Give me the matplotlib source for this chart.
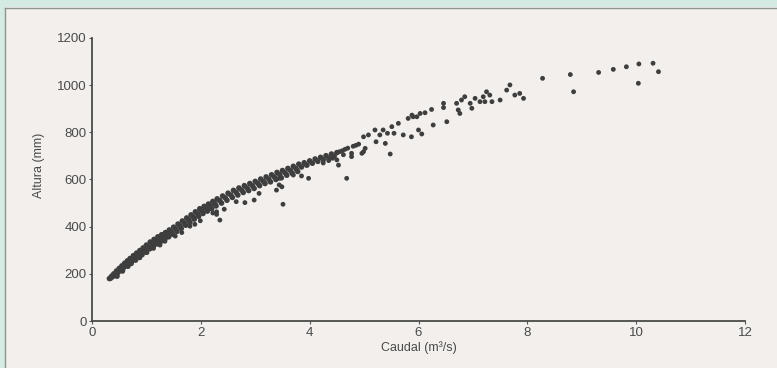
import numpy as np
import matplotlib
matplotlib.use("Agg")
import matplotlib.pyplot as plt
from matplotlib.patches import Rectangle

# rating curve data (Caudal m3/s, Altura mm)
# dense band, upper row
q_top = [0.32, 0.36, 0.40, 0.45, 0.50, 0.55, 0.60, 0.65, 0.70, 0.76, 0.82, 0.88,
         0.94, 1.00, 1.07, 1.14, 1.21, 1.28, 1.35, 1.42, 1.50, 1.58, 1.66, 1.74,
         1.82, 1.90, 1.98, 2.06, 2.14, 2.22, 2.30, 2.40, 2.50, 2.60, 2.70, 2.80,
         2.90, 3.00, 3.10, 3.20, 3.30, 3.40, 3.50, 3.60, 3.70, 3.80, 3.90, 4.00,
         4.10, 4.20, 4.30, 4.40, 4.50]
h_top = [180, 190, 200, 212, 223, 234, 245, 255, 265, 277, 288, 299,
         310, 322, 335, 346, 357, 366, 375, 386, 398, 411, 424, 437,
         450, 463, 476, 486, 496, 507, 518, 530, 542, 554, 564, 574,
         583, 592, 602, 611, 620, 630, 638, 647, 656, 665, 671, 679,
         687, 694, 701, 708, 714]

# dense band, middle row
q_mid = [0.34, 0.38, 0.43, 0.48, 0.53, 0.58, 0.63, 0.68, 0.73, 0.79, 0.85, 0.91,
         0.97, 1.04, 1.11, 1.18, 1.25, 1.32, 1.39, 1.46, 1.54, 1.62, 1.70, 1.78,
         1.86, 1.94, 2.02, 2.10, 2.18, 2.26, 2.35, 2.45, 2.55, 2.65, 2.75, 2.85,
         2.95, 3.05, 3.15, 3.25, 3.35, 3.45, 3.55, 3.65, 3.75, 3.85, 3.95, 4.05,
         4.15, 4.25, 4.35, 4.45]
h_mid = [181, 188, 197, 206, 216, 226, 236, 246, 257, 268, 279, 290,
         302, 314, 326, 337, 348, 357, 367, 378, 390, 403, 416, 429,
         442, 455, 467, 477, 487, 498, 510, 522, 534, 545, 555, 564,
         573, 583, 592, 601, 611, 620, 628, 637, 646, 653, 661, 669,
         677, 684, 691, 698]

# dense band, lower row
q_low = [0.46, 0.56, 0.66, 0.72, 0.80, 0.86, 0.92, 0.99, 1.06, 1.13, 1.20, 1.27,
         1.34, 1.41, 1.48, 1.56, 1.64, 1.72, 1.80, 1.88, 1.96, 2.04, 2.12, 2.20,
         2.28, 2.38, 2.48, 2.58, 2.68, 2.78, 2.88, 2.98, 3.08, 3.18, 3.28, 3.38,
         3.48, 3.58, 3.68, 3.78]
h_low = [190, 212, 232, 244, 258, 270, 281, 292, 306, 317, 327, 338,
         347, 357, 368, 380, 392, 406, 418, 432, 444, 456, 466, 476,
         488, 500, 512, 524, 534, 545, 553, 562, 574, 583, 590, 600,
         607, 618, 626, 634]

# scattered points below the band and the sparse upper part
q_out = [0.73, 0.88, 1.01, 1.13, 1.25, 1.34, 1.53, 1.65, 1.80, 1.89, 1.99, 2.29,
         2.22, 2.29, 2.43, 2.35, 2.65, 2.81, 2.98, 3.07, 3.39, 3.44, 3.49, 3.44,
         3.51, 3.70, 3.85, 3.98, 3.76, 3.94, 4.25, 4.35, 4.42, 4.50, 4.53, 4.55,
         4.60, 4.62, 4.65, 4.68, 4.70, 4.77, 4.80, 4.85, 4.90, 4.99, 4.77, 4.96,
         5.02, 4.99, 5.08, 5.20, 5.22, 5.29, 5.35, 5.39, 5.43, 5.48, 5.51, 5.55,
         5.63, 5.72, 5.81, 5.87, 5.90, 6.00, 5.88, 5.97, 6.03, 6.12, 6.24, 6.06,
         6.27, 6.46, 6.46, 6.52, 6.70, 6.73, 6.76, 6.79, 6.85, 6.95, 6.98, 7.04,
         7.13, 7.19, 7.22, 7.25, 7.31, 7.35, 7.50, 7.62, 7.68, 7.77, 7.86, 7.93,
         8.28, 8.79, 8.85, 9.31, 9.58, 9.82, 10.05, 10.04, 10.31, 10.41]
h_out = [250, 268, 290, 308, 322, 338, 360, 375, 402, 410, 425, 452,
         458, 463, 474, 428, 506, 502, 513, 541, 555, 577, 569, 605,
         495, 619, 615, 605, 640, 661, 670, 680, 690, 683, 661, 718,
         722, 705, 728, 605, 733, 697, 741, 745, 750, 718, 711, 711,
         732, 781, 789, 810, 760, 789, 810, 753, 796, 708, 824, 796,
         838, 789, 859, 781, 866, 810, 873, 866, 880, 883, 897, 793,
         831, 923, 905, 845, 923, 895, 880, 937, 951, 923, 902, 944,
         930, 951, 930, 972, 958, 930, 937, 979, 1001, 958, 965, 944,
         1029, 1045, 972, 1054, 1067, 1078, 1090, 1008, 1093, 1057]

x_ticks = [0, 2, 4, 6, 8, 10, 12]
y_ticks = [0, 200, 400, 600, 800, 1000, 1200]

paper = '#f2efec'
ink = '#3e3e3e'
plt.rcParams['font.family'] = ['Liberation Sans', 'DejaVu Sans']

fig = plt.figure(figsize=(7.77, 3.68), dpi=100, facecolor=paper)

# scanned frame: teal strip top/left with a thin grey rule
fig.patches.append(Rectangle((0, 1 - 7/368), 1, 7/368, transform=fig.transFigure,
                             facecolor='#d3ebe2', edgecolor='none', zorder=0))
fig.patches.append(Rectangle((0, 0), 5/777, 1, transform=fig.transFigure,
                             facecolor='#d3ebe2', edgecolor='none', zorder=0))
fig.add_artist(plt.Line2D([5/777, 1], [1 - 8/368, 1 - 8/368], transform=fig.transFigure,
                          color='#8e9490', lw=1.0))
fig.add_artist(plt.Line2D([5/777, 5/777], [0, 1 - 8/368], transform=fig.transFigure,
                          color='#8e9490', lw=1.0))

ax = fig.add_axes([92/777, 47/368, 653/777, 283/368])
ax.set_facecolor('none')

for q, h in [(q_top, h_top), (q_mid, h_mid), (q_low, h_low)]:
    ax.scatter(q, h, s=16, color=ink, edgecolors='none')
ax.scatter(q_out, h_out, s=12, color=ink, edgecolors='none')

ax.set_xlim(0, 12)
ax.set_ylim(0, 1200)
ax.set_xticks(x_ticks)
ax.set_yticks(y_ticks)
ax.tick_params(axis='both', length=2, width=0.8, color='#555555',
               labelsize=9.5, labelcolor='#4a4a4a', pad=2)

for side in ['top', 'right']:
    ax.spines[side].set_visible(False)
for side in ['left', 'bottom']:
    ax.spines[side].set_color('#4a4a4a')
    ax.spines[side].set_linewidth(1.3)

ax.set_xlabel('Caudal (m³/s)', fontsize=9, color='#4a4a4a', labelpad=2)
ax.set_ylabel('Altura (mm)', fontsize=9, color='#4a4a4a', labelpad=6)
ax.yaxis.set_label_coords(-0.072, 0.55)

plt.savefig('out.png', dpi=100, facecolor=paper)
